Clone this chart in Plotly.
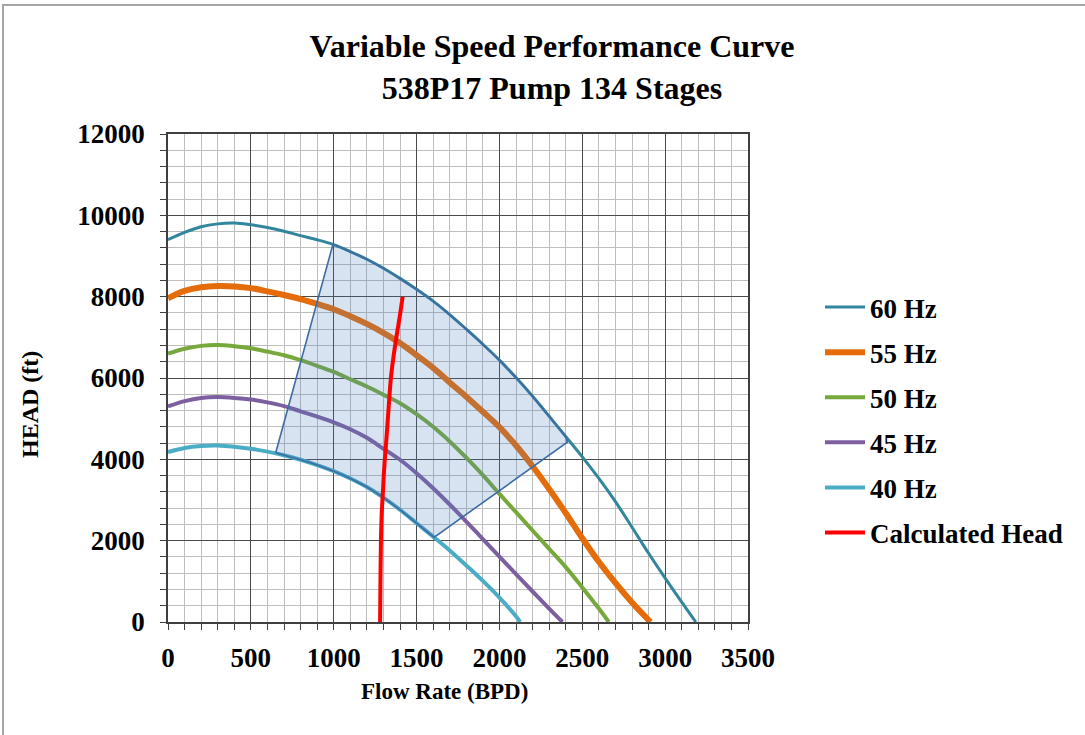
import plotly.graph_objects as go

# ---------------- data ----------------
flow_60 = [0, 100, 200, 300, 400, 500, 600, 700, 800, 900, 1000, 1100, 1200, 1300, 1400, 1500,
           1600, 1700, 1800, 1900, 2000, 2100, 2200, 2300, 2400, 2500, 2600, 2700, 2800, 2900,
           3000, 3100, 3185]
head_60 = [9400, 9580, 9720, 9790, 9810, 9770, 9700, 9610, 9500, 9400, 9280, 9110, 8920, 8700,
           8450, 8180, 7890, 7560, 7200, 6830, 6440, 6010, 5550, 5060, 4560, 4060, 3530, 2960,
           2330, 1690, 1080, 490, 0]

flow_55 = [0, 100, 200, 300, 400, 500, 600, 700, 800, 900, 1000, 1100, 1200, 1300, 1400, 1500,
           1600, 1700, 1800, 1900, 2000, 2100, 2200, 2300, 2400, 2500, 2600, 2700, 2800, 2912]
head_55 = [7960, 8140, 8230, 8260, 8250, 8210, 8130, 8040, 7940, 7820, 7690, 7520, 7330, 7110,
           6860, 6560, 6250, 5890, 5540, 5170, 4790, 4340, 3830, 3270, 2680, 2060, 1480, 960,
           480, 0]

flow_50 = [0, 100, 200, 300, 400, 500, 600, 700, 800, 900, 1000, 1100, 1200, 1300, 1400, 1500,
           1600, 1700, 1800, 1900, 2000, 2100, 2200, 2300, 2400, 2500, 2600, 2660]
head_50 = [6600, 6720, 6790, 6810, 6780, 6730, 6650, 6560, 6440, 6300, 6150, 5970, 5790, 5590,
           5380, 5110, 4800, 4440, 4040, 3610, 3150, 2700, 2250, 1800, 1350, 850, 330, 0]

flow_45 = [0, 100, 200, 300, 400, 500, 600, 700, 800, 900, 1000, 1100, 1200, 1300, 1400, 1500,
           1600, 1700, 1800, 1900, 2000, 2100, 2200, 2300, 2380]
head_45 = [5300, 5430, 5510, 5530, 5510, 5470, 5400, 5310, 5180, 5050, 4910, 4740, 4530, 4260,
           3990, 3660, 3290, 2890, 2470, 2040, 1610, 1180, 750, 330, 0]

flow_40 = [0, 100, 200, 300, 400, 500, 600, 700, 800, 900, 1000, 1100, 1200, 1300, 1400, 1500,
           1600, 1700, 1800, 1900, 2000, 2100, 2125]
head_40 = [4180, 4280, 4330, 4340, 4310, 4260, 4190, 4100, 3990, 3860, 3710, 3530, 3320, 3060,
           2760, 2430, 2100, 1760, 1390, 1010, 600, 140, 0]

flow_calc = [1280, 1282, 1285, 1290, 1297, 1305, 1318, 1332, 1345, 1360, 1378, 1398, 1416]
head_calc = [0, 1000, 2000, 2700, 3200, 3800, 4500, 5300, 6000, 6500, 7000, 7500, 8000]

# operating-window corners (lower-left, upper-left, upper-right, lower-right)
win_flow = [650, 995, 2410, 1605]
win_head = [4160, 9280, 4420, 2080]

series = [
    ("60 Hz", flow_60, head_60, "#31859C", 3),
    ("55 Hz", flow_55, head_55, "#E46C0A", 6),
    ("50 Hz", flow_50, head_50, "#77A83C", 4),
    ("45 Hz", flow_45, head_45, "#7D5FA0", 4),
    ("40 Hz", flow_40, head_40, "#4BACC6", 4),
]

FONT = "Liberation Serif"
W, H = 1085, 735
PL, PR, PT, PB = 168, 748, 134, 622      # plot area in pixels
PW, PH = PR - PL, PB - PT


def px_x(x):
    return (x - PL) / PW


def px_y(y):
    return (PB - y) / PH


fig = go.Figure()
for i, (name, fx, hy, col, w) in enumerate(series):
    fig.add_trace(go.Scatter(x=fx, y=hy, mode="lines", name=name, legendgroup=f"g{i}",
                             line=dict(color=col, width=w, shape="spline"),
                             hoverinfo="x+y+name"))

# shaded operating window built from the curves and corners
poly_x = [win_flow[0], win_flow[1]]
poly_y = [win_head[0], win_head[1]]
for f, h in zip(flow_60, head_60):
    if win_flow[1] < f < win_flow[2]:
        poly_x.append(f); poly_y.append(h)
poly_x += [win_flow[2], win_flow[3]]
poly_y += [win_head[2], win_head[3]]
for f, h in reversed(list(zip(flow_40, head_40))):
    if win_flow[0] < f < win_flow[3]:
        poly_x.append(f); poly_y.append(h)
poly_x.append(win_flow[0]); poly_y.append(win_head[0])

fig.add_trace(go.Scatter(x=poly_x, y=poly_y, mode="lines", fill="toself",
                         fillcolor="rgba(79,129,189,0.22)",
                         line=dict(color="#3D6CA3", width=1.6),
                         showlegend=False, hoverinfo="skip"))

fig.add_trace(go.Scatter(x=flow_calc, y=head_calc, mode="lines", name="Calculated Head",
                         legendgroup="g9", line=dict(color="#FF0000", width=4, shape="spline")))

axis_common = dict(
    showline=True, linecolor="#404040", linewidth=1.5, mirror=True,
    showgrid=True, gridcolor="#4A4A4A", gridwidth=1,
    ticks="outside", ticklen=6, tickcolor="#404040",
    tickfont=dict(family=FONT, size=27, color="black", weight="bold"),
    tickformat="d", zeroline=False,
)

fig.update_xaxes(range=[0, 3500], dtick=500, tick0=0,
                 minor=dict(dtick=100, showgrid=True, gridcolor="#BDBDBD", gridwidth=1,
                            ticks="outside", ticklen=6, tickcolor="#404040"),
                 ticklabelstandoff=5, **axis_common)
fig.update_yaxes(range=[0, 12000], dtick=2000, tick0=0,
                 minor=dict(dtick=400, showgrid=True, gridcolor="#BDBDBD", gridwidth=1,
                            ticks="outside", ticklen=6, tickcolor="#404040"),
                 ticklabelstandoff=10, **axis_common)

fig.update_layout(
    width=W, height=H,
    margin=dict(l=PL, r=W - PR, t=PT, b=H - PB),
    paper_bgcolor="white", plot_bgcolor="white",
    title=dict(text="<b>Variable Speed Performance Curve<br>538P17 Pump 134 Stages</b>",
               x=552 / W, xanchor="center", xref="container",
               y=1 - 57 / H, yanchor="top", yref="container",
               font=dict(family=FONT, size=32, color="black")),
    legend=dict(x=px_x(820), xanchor="left", y=px_y(283), yanchor="top",
                font=dict(family=FONT, size=27, color="black", weight="bold"),
                tracegroupgap=7, bgcolor="rgba(0,0,0,0)", itemwidth=40),
    showlegend=True,
    annotations=[
        dict(text="<b>Flow Rate (BPD)</b>", x=px_x(444), y=px_y(691), xref="paper",
             yref="paper", xanchor="center", yanchor="middle", showarrow=False,
             font=dict(family=FONT, size=23, color="black")),
        dict(text="<b>HEAD (ft)</b>", x=px_x(30), y=px_y(405), xref="paper", yref="paper",
             xanchor="center", yanchor="middle", textangle=-90, showarrow=False,
             font=dict(family=FONT, size=24, color="black")),
    ],
    shapes=[dict(type="rect", xref="paper", yref="paper",
                 x0=px_x(3), x1=px_x(1100), y0=px_y(745), y1=px_y(5),
                 line=dict(color="#A6A6A6", width=2), fillcolor="rgba(0,0,0,0)",
                 layer="below")],
)

fig.write_html("out.html", config={"displayModeBar": False},
               post_script="document.body.style.margin='0';")
